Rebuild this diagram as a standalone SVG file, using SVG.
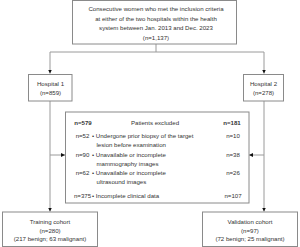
<svg xmlns="http://www.w3.org/2000/svg" width="300" height="247" viewBox="0 0 300 247">
<defs>
<marker id="ah" viewBox="0 0 6 6" refX="6" refY="3" markerWidth="4" markerHeight="4" orient="auto" markerUnits="userSpaceOnUse">
<path d="M0,0 L6,3 L0,6 z" fill="#111"/>
</marker>
<style>
.box{fill:#fff;stroke:#8a8a8a;stroke-width:1}
.ln{fill:none;stroke:#9a9a9a;stroke-width:1}
text{font-family:"Liberation Sans",Arial,sans-serif;font-size:6.1px;fill:#333}
.c{text-anchor:middle}
.b{font-weight:bold}
</style>
</defs>
<rect width="300" height="247" fill="#fff"/>
<g id="connectors">
<path class="ln" d="M156,44 V52"/>
<path class="ln" d="M50,52 H264"/>
<path class="ln" d="M50,52 V73.5" marker-end="url(#ah)"/>
<path class="ln" d="M264,52 V73.5" marker-end="url(#ah)"/>
<path class="ln" d="M50,101 V211.5" marker-end="url(#ah)"/>
<path class="ln" d="M264,101 V211.5" marker-end="url(#ah)"/>
<path class="ln" d="M50,155 H65" marker-end="url(#ah)"/>
<path class="ln" d="M264,155 H249" marker-end="url(#ah)"/>
</g>
<g id="top">
<rect class="box" x="72.5" y="0.5" width="164" height="43.5"/>
<text class="c" x="156" y="11">Consecutive women who met the inclusion criteria</text>
<text class="c" x="156" y="20.5">at either of the two hospitals within the health</text>
<text class="c" x="156" y="30">system between Jan. 2013 and Dec. 2023</text>
<text class="c" x="156" y="39.5">(n=1,137)</text>
</g>
<g id="hospital1">
<rect class="box" x="28.5" y="74.5" width="43.5" height="26.5"/>
<text class="c" x="50.5" y="85.5">Hospital 1</text>
<text class="c" x="50.5" y="95">(n=859)</text>
</g>
<g id="hospital2">
<rect class="box" x="243.5" y="74.5" width="40" height="26.5"/>
<text class="c" x="263.5" y="85.5">Hospital 2</text>
<text class="c" x="263.5" y="95">(n=278)</text>
</g>
<g id="excluded">
<rect class="box" x="65.5" y="112" width="183.5" height="91"/>
<text class="c b" x="83" y="125">n=579</text>
<text class="c" x="155" y="125">Patients excluded</text>
<text class="c b" x="232" y="125">n=181</text>
<text class="c" x="82.5" y="137.5">n=52</text>
<text x="92" y="137.5">• Undergone prior biopsy of the target</text>
<text x="96.5" y="147">lesion before examination</text>
<text class="c" x="233" y="137.5">n=10</text>
<text class="c" x="82.5" y="157">n=90</text>
<text x="92" y="157">• Unavailable or incomplete</text>
<text x="96.5" y="165.5">mammography images</text>
<text class="c" x="233" y="157">n=38</text>
<text class="c" x="82.5" y="174.5">n=62</text>
<text x="92" y="174.5">• Unavailable or incomplete</text>
<text x="96.5" y="184">ultrasound images</text>
<text class="c" x="233" y="174.5">n=26</text>
<text class="c" x="82.5" y="198">n=375</text>
<text x="92" y="198">• Incomplete clinical data</text>
<text class="c" x="233" y="198">n=107</text>
</g>
<g id="training">
<rect class="box" x="2.5" y="212" width="95" height="34.5"/>
<text class="c" x="50" y="224">Training cohort</text>
<text class="c" x="50" y="232.5">(n=280)</text>
<text class="c" x="50" y="241">(217 benign; 63 malignant)</text>
</g>
<g id="validation">
<rect class="box" x="202.5" y="212" width="95" height="34.5"/>
<text class="c" x="250" y="224">Validation cohort</text>
<text class="c" x="250" y="232.5">(n=97)</text>
<text class="c" x="250" y="241">(72 benign; 25 malignant)</text>
</g>
</svg>
